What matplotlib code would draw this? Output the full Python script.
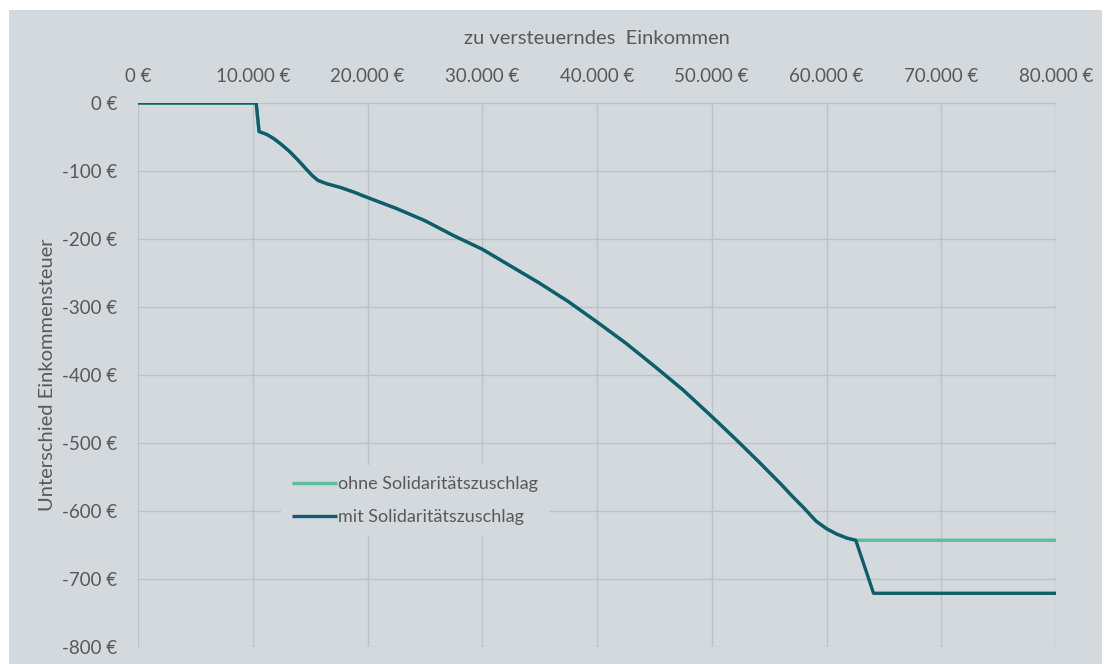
import matplotlib
matplotlib.use("Agg")
import matplotlib.pyplot as plt
from matplotlib.patches import Rectangle
from matplotlib.ticker import FuncFormatter

plt.rcParams['font.family'] = ['Lato', 'DejaVu Sans']

# Data (income in €, difference in €)
income_common = [0, 10300, 10550, 11200, 11800, 12500, 13250, 14000, 14700, 15200,
                 15700, 16500, 17600, 18800, 20000, 22500, 25000, 27500, 30000,
                 32500, 35000, 37500, 40000, 42500, 45000, 47500, 50000, 52000,
                 54000, 56000, 57000, 58000, 58600, 59100, 60000, 60900, 61800, 62550]
diff_common = [0, 0, -42, -46, -52, -61, -72, -85, -98, -107,
               -114, -119, -124, -131, -139, -155, -173, -195, -215,
               -240, -265, -292, -322, -353, -387, -422, -461, -493,
               -526, -560, -578, -595, -606, -615, -626, -634, -640, -643]

income_ohne = income_common + [80000]
diff_ohne = diff_common + [-643]

income_mit = income_common + [64100, 80000]
diff_mit = diff_common + [-721, -721]

x_ticks = [0, 10000, 20000, 30000, 40000, 50000, 60000, 70000, 80000]
y_ticks = [0, -100, -200, -300, -400, -500, -600, -700, -800]

bg = '#d3d9dc'
text_col = '#595959'
grid_col = '#bcc3c6'
col_ohne = '#5cbd9c'
col_mit = '#0f5d6c'

W, H = 1105, 664
fig = plt.figure(figsize=(W / 100, H / 100), dpi=100)
fig.patch.set_facecolor('white')
fig.patches.append(Rectangle((9 / W, 0), (1102 - 9) / W, 1 - 10 / H,
                             transform=fig.transFigure, facecolor=bg,
                             edgecolor='none', zorder=-10))

ax = fig.add_axes([138 / W, 1 - 647 / H, (1056 - 138) / W, (647 - 103) / H])
ax.set_facecolor(bg)
ax.set_xlim(0, 80000)
ax.set_ylim(-800, 0)

def fmt(v, pos=None):
    v = int(round(v))
    s = f"{abs(v):,}".replace(',', '.')
    return ("-" if v < 0 else "") + s + " €"

ax.set_xticks(x_ticks)
ax.set_yticks(y_ticks)
ax.xaxis.set_major_formatter(FuncFormatter(fmt))
ax.yaxis.set_major_formatter(FuncFormatter(fmt))
ax.xaxis.tick_top()
ax.xaxis.set_label_position('top')
ax.tick_params(axis='both', length=0, labelsize=13.5, labelcolor=text_col)
ax.tick_params(axis='x', pad=13)
ax.tick_params(axis='y', pad=15)
ax.grid(True, color=grid_col, linewidth=1.0)
ax.set_axisbelow(True)
for s in ax.spines.values():
    s.set_visible(False)

ax.plot(income_ohne, diff_ohne, color=col_ohne, linewidth=2.4,
        label='ohne Solidaritätszuschlag', solid_capstyle='butt', zorder=3)
ax.plot(income_mit, diff_mit, color=col_mit, linewidth=2.4,
        label='mit Solidaritätszuschlag', solid_capstyle='butt', zorder=4)

ax.set_xlabel('zu versteuerndes  Einkommen', fontsize=14.5, color=text_col, labelpad=17)
ax.set_ylabel('Unterschied Einkommensteuer', fontsize=14.5, color=text_col, labelpad=4)

leg = ax.legend(loc='upper left', bbox_to_anchor=(272 / W, 1 - 456 / H),
                bbox_transform=fig.transFigure, frameon=True, fontsize=13,
                handlelength=2.5, handletextpad=0.05, labelspacing=0.95,
                borderpad=0.6, fancybox=False)
leg.get_frame().set_facecolor(bg)
leg.get_frame().set_edgecolor('none')
leg.get_frame().set_alpha(1)
for t in leg.get_texts():
    t.set_color(text_col)

fig.savefig('out.png', dpi=100, facecolor=fig.get_facecolor())
